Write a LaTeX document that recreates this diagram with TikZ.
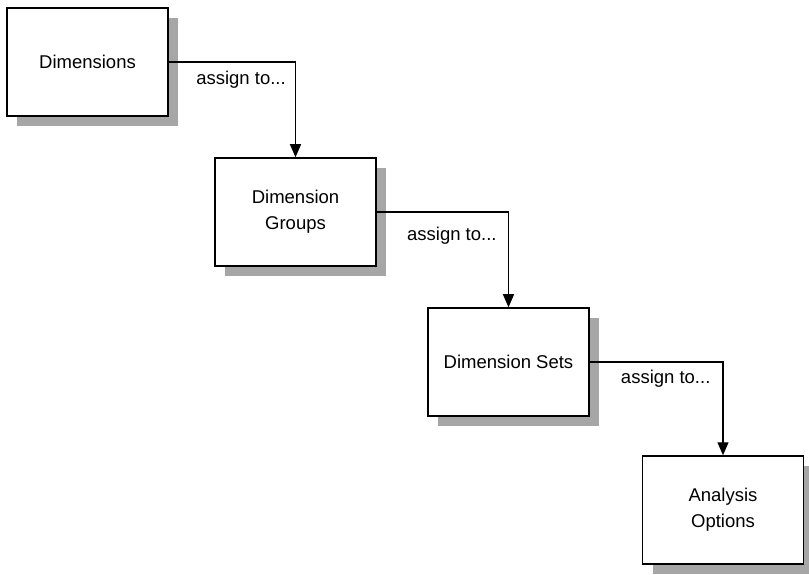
\documentclass[tikz,border=0pt]{standalone}
\usepackage{fontspec}
\setmainfont{Liberation Sans}
\usetikzlibrary{arrows.meta,shadows}

\tikzset{
    dimbox/.style={draw, line width=1.5pt, fill=white,
        minimum width=161pt, minimum height=108pt, align=center,
        font=\fontsize{18.5}{26}\selectfont,
        drop shadow={shadow xshift=10pt, shadow yshift=-10pt, fill=black!35, opacity=1}},
    assign/.style={line width=1.3pt, -{Triangle[width=11pt,length=13pt]}},
    assignlabel/.style={font=\fontsize{18.5}{22}\selectfont, inner sep=0pt}
}

\begin{document}
\begin{tikzpicture}[x=1pt, y=1pt]
    \useasboundingbox (0,0) rectangle (809,574);

    % the four levels, each one step down and to the right
    \node[dimbox] (dims)   at (87.5, 512) {Dimensions};
    \node[dimbox] (groups) at (295.5, 362) {Dimension\\Groups};
    \node[dimbox] (sets)   at (508.5, 212) {Dimension Sets};
    \node[dimbox] (opts)   at (723, 64)    {Analysis\\Options};

    % connectors: east side of one box to the top of the next
    \foreach \from/\to/\gap in {dims/groups/8, groups/sets/14, sets/opts/7} {
        \draw[assign] (\from.east) -| node[assignlabel, pos=0.285, below=\gap pt] {assign to...} (\to.north);
    }
\end{tikzpicture}
\end{document}
